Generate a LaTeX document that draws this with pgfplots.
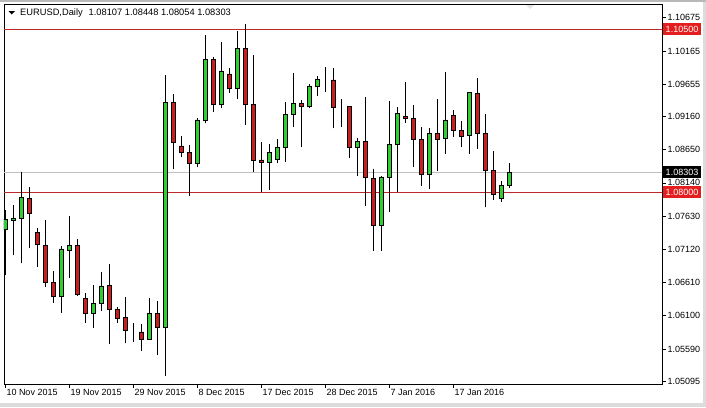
\documentclass[border=0pt]{standalone}
\usepackage{fontspec}
\setmainfont{Liberation Sans}
\usepackage{pgfplots}
\usepackage{pgfplotstable}
\pgfplotsset{compat=1.18}
\definecolor{cgreen}{RGB}{50,205,50}
\definecolor{cred}{RGB}{200,30,30}
\definecolor{lred}{RGB}{190,40,40}
\definecolor{bred}{RGB}{228,30,30}
\definecolor{bidgray}{RGB}{192,192,192}
\definecolor{edgegray}{RGB}{220,220,220}

\pgfplotstableread{
k o h l c
0 1.07432 1.07723 1.06725 1.07580
1 1.07565 1.07800 1.07032 1.07596
2 1.07596 1.08311 1.06905 1.07918
3 1.07903 1.08081 1.07135 1.07673
4 1.07381 1.07442 1.06853 1.07197
5 1.07186 1.07570 1.06546 1.06607
6 1.06607 1.06787 1.06300 1.06403
7 1.06403 1.07171 1.06147 1.07125
8 1.07099 1.07631 1.06675 1.07175
9 1.07186 1.07273 1.06403 1.06429
10 1.06368 1.06445 1.05993 1.06138
11 1.06138 1.06572 1.05917 1.06291
12 1.06291 1.06767 1.06178 1.06557
13 1.06572 1.06894 1.05662 1.06199
14 1.06199 1.06239 1.05993 1.06061
15 1.06076 1.06383 1.05677 1.05871
16 1.05871 1.05984 1.05702 1.05871
17 1.05851 1.05969 1.05564 1.05738
18 1.05738 1.06368 1.05730 1.06138
19 1.06138 1.06326 1.05497 1.05923
20 1.05923 1.09795 1.05180 1.09376
21 1.09376 1.09499 1.08348 1.08762
22 1.08706 1.08859 1.08532 1.08603
23 1.08609 1.08721 1.07943 1.08440
24 1.08440 1.09140 1.08388 1.09105
25 1.09094 1.10409 1.09054 1.10036
26 1.10036 1.10076 1.09232 1.09346
27 1.09346 1.10307 1.09284 1.09857
28 1.09811 1.09898 1.09524 1.09591
29 1.09591 1.10475 1.09427 1.10205
30 1.10205 1.10578 1.09028 1.09346
31 1.09346 1.10102 1.08311 1.08491
32 1.08491 1.08762 1.08004 1.08455
33 1.08455 1.08732 1.08030 1.08609
34 1.08501 1.08813 1.08440 1.08686
35 1.08686 1.09376 1.08465 1.09192
36 1.09192 1.09831 1.09002 1.09361
37 1.09361 1.09412 1.08686 1.09309
38 1.09309 1.09657 1.09284 1.09627
39 1.09627 1.09780 1.09478 1.09729
40 1.09719 1.09914 1.09539 1.09719
41 1.09719 1.09898 1.08977 1.09300
42 1.09309 1.09427 1.09002 1.09309
43 1.09309 1.09320 1.08517 1.08686
44 1.08686 1.08824 1.08250 1.08782
45 1.08782 1.09462 1.07785 1.08219
46 1.08210 1.08353 1.07099 1.07482
47 1.07482 1.08245 1.07099 1.08230
48 1.08219 1.09396 1.07697 1.08736
49 1.08732 1.09300 1.08004 1.09208
50 1.09166 1.09693 1.09063 1.09125
51 1.09131 1.09335 1.08388 1.08813
52 1.08808 1.09002 1.08092 1.08271
53 1.08271 1.08977 1.08041 1.08901
54 1.08901 1.09427 1.08327 1.08808
55 1.08824 1.09846 1.08583 1.09105
56 1.09181 1.09258 1.08848 1.08951
57 1.08951 1.09089 1.08686 1.08859
58 1.08864 1.09535 1.08583 1.09530
59 1.09515 1.09754 1.08660 1.08901
60 1.08901 1.09197 1.07765 1.08327
61 1.08337 1.08629 1.07877 1.07964
62 1.07903 1.08168 1.07851 1.08102
63 1.08107 1.08448 1.08054 1.08303
}\candles

\pgfplotsset{chartdims/.style={
  at={(4pt,-4pt)}, anchor=north west, scale only axis,
  width=658pt, height=380pt,
  xmin=-0.1625, xmax=82.0875, ymin=1.050523, ymax=1.108853,
}}

\begin{document}
\begin{tikzpicture}
\useasboundingbox (0,0) rectangle (706pt,-407pt);
\fill[white] (0,0) rectangle (706pt,-407pt);
\fill[edgegray] (0,-403pt) rectangle (706pt,-407pt);
\fill[edgegray] (703pt,0) rectangle (706pt,-407pt);
\fill[gray!55] (0,0) rectangle (706pt,-1.5pt);

\begin{axis}[chartdims,
  axis line style={black, line width=0.9pt},
  tick align=outside, major tick length=3.5pt,
  tick style={black, line width=0.7pt},
  xtick pos=left, ytick pos=right,
  xtick={0,8,16,24,32,40,48,56},
  xticklabels={10 Nov 2015, 19 Nov 2015, 29 Nov 2015, 8 Dec 2015, 17 Dec 2015, 28 Dec 2015, 7 Jan 2016, 17 Jan 2016},
  ytick={1.05095,1.05590,1.06100,1.06610,1.07120,1.07630,1.08140,1.08650,1.09160,1.09655,1.10165,1.10675},
  yticklabels={1.05095,1.05590,1.06100,1.06610,1.07120,1.07630,1.08140,1.08650,1.09160,1.09655,1.10165,1.10675},
  ticklabel style={font=\fontsize{9}{10}\selectfont, inner sep=0pt},
  xticklabel style={anchor=north west, xshift=1pt, yshift=-2pt},
  yticklabel style={anchor=west, xshift=2pt},
]
\addplot[lred, line width=0.8pt] coordinates {(-1,1.105) (90,1.105)};
\addplot[lred, line width=0.8pt] coordinates {(-1,1.08) (90,1.08)};
\addplot[bidgray, line width=0.8pt] coordinates {(-1,1.08303) (90,1.08303)};
\addplot[black, line width=0.8pt, only marks, mark=*, mark size=0pt,
  mark options={draw=none, fill=none},
  error bars/.cd, y dir=plus, y explicit, error mark=none,
  error bar style={draw=black, line width=0.8pt}]
  table[x=k, y=l, y error plus expr=\thisrow{h}-\thisrow{l}] {\candles};
\coordinate (p105) at (axis cs:82.0875,1.105);
\coordinate (p108) at (axis cs:82.0875,1.08);
\coordinate (pbid) at (axis cs:82.0875,1.08303);
\end{axis}

\begin{axis}[chartdims, axis lines=none, ticks=none, ybar stacked, bar width=4.6pt]
\addplot[draw=none, fill=none] table[x=k, y expr={min(\thisrow{o},\thisrow{c})}] {\candles};
\addplot[fill=cgreen, draw=black, line width=0.8pt] table[x=k, y expr={max(\thisrow{c}-\thisrow{o},0)}] {\candles};
\addplot[fill=cred, draw=black, line width=0.8pt] table[x=k, y expr={max(\thisrow{o}-\thisrow{c},0)}] {\candles};
\end{axis}

\tikzset{pricebox/.style={anchor=west, text=white, minimum width=38pt, minimum height=11.5pt, inner sep=0pt, font=\fontsize{9}{10}\selectfont}}
\node[pricebox, fill=bred] at ([xshift=0.8pt]p105) {1.10500};
\node[pricebox, fill=bred] at ([xshift=0.8pt]p108) {1.08000};
\node[pricebox, fill=black] at ([xshift=0.8pt]pbid) {1.08303};

\fill[black] (8.5pt,-11pt) -- (15pt,-11pt) -- (11.75pt,-14.5pt) -- cycle;
\node[anchor=west, inner sep=0pt, font=\fontsize{9.3}{11}\selectfont] at (20pt,-13pt) {EURUSD,Daily\hspace{6pt}1.08107 1.08448 1.08054 1.08303};
\fill[gray!20] (526pt,-5pt) -- (534pt,-5pt) -- (530pt,-9pt) -- cycle;
\end{tikzpicture}
\end{document}
